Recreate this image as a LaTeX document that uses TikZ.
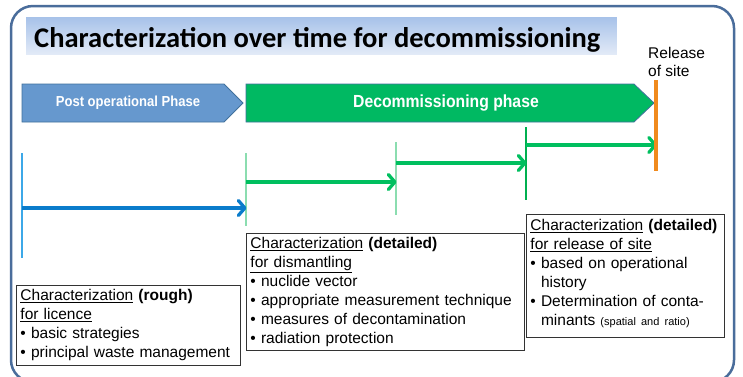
\documentclass[tikz,border=0pt]{standalone}
\usepackage{graphicx}
\usepackage{fontspec}
\setmainfont{Liberation Sans}
\newfontfamily\titlefont{Carlito}
\usetikzlibrary{arrows.meta}
\definecolor{frameblue}{HTML}{4A6D9B}
\definecolor{bannertop}{HTML}{A7C2E9}
\definecolor{bannerbot}{HTML}{E2EAF7}
\definecolor{postfill}{HTML}{6698CE}
\definecolor{phaseedge}{HTML}{41719C}
\definecolor{decfill}{HTML}{00B962}
\definecolor{siteorange}{HTML}{F08A1D}
\definecolor{arrowblue}{HTML}{0A7CCB}
\definecolor{arrowgreen}{HTML}{00BF5F}
\definecolor{tickblue}{HTML}{3CA8E8}
\definecolor{tickgreen}{HTML}{8BDDB0}
\definecolor{tickgreendark}{HTML}{00B050}
\tikzset{
  phase/.style={fill=#1, draw=phaseedge, line width=0.8pt},
  phasetext/.style={text=white, inner sep=0pt},
  tickline/.style={draw=#1, line width=1.5pt},
  timearrow/.style={draw=#1, line width=3.3pt, -{Straight Barb[length=6.5pt,width=15pt,round]}},
  infobox/.style={draw=black!80, line width=0.9pt, anchor=north west, inner xsep=4pt, inner ysep=3pt,
    align=left, font=\fontsize{15.5}{19}\selectfont, text height=12pt},
}
\begin{document}
\begin{tikzpicture}[x=1pt,y=-1pt]
\useasboundingbox (0,0) rectangle (743,376);
\fill[white] (0,0) rectangle (743,376);
% outer frame
\draw[frameblue, line width=2.5pt, rounded corners=22pt] (11,6) rectangle (734,382);
% title banner: top darker blue, bottom lighter
\foreach \i in {0,...,37}{
  \pgfmathsetmacro{\mixval}{100-\i*100/37}
  \fill[bannertop!\mixval!bannerbot] (26,17+\i) rectangle (617,18.2+\i);
}
\node[font=\titlefont\bfseries\fontsize{28.5}{30}\selectfont, anchor=base west, inner sep=0pt] (title) at (34,47.5) {Characterization over time for decommissioning};
% release label
\node[anchor=north west, inner sep=0pt, align=left, font=\fontsize{15.5}{18}\selectfont] (release) at (648,47.5) {Release\\of site};
% phase arrows
\draw[phase=postfill] (22,84) -- (224,84) -- (243,103) -- (224,122) -- (22,122) -- cycle;
\draw[phase=decfill] (246,84) -- (634,84) -- (654,103) -- (634,122) -- (246,122) -- cycle;
\node[phasetext, font=\bfseries\fontsize{14.5}{16}\selectfont] (posttxt) at (128,103) {\scalebox{0.9}[1]{Post operational Phase}};
\node[phasetext, font=\bfseries\fontsize{17.5}{19}\selectfont] (dectxt) at (446,103) {\scalebox{0.9}[1]{Decommissioning phase}};
% tick coordinates
\coordinate (t0a) at (22,153);  \coordinate (t0b) at (22,258);
\coordinate (t1a) at (246,153); \coordinate (t1b) at (246,226);
\coordinate (t2a) at (396,142); \coordinate (t2b) at (396,215);
\coordinate (t3a) at (526,127); \coordinate (t3b) at (526,200);
\coordinate (t4a) at (656,80);  \coordinate (t4b) at (656,171);
\draw[tickline=tickblue] (t0a) -- (t0b);
\draw[tickline=tickgreen] (t1a) -- (t1b);
\draw[tickline=tickgreen] (t2a) -- (t2b);
\draw[tickline=tickgreendark, line width=1.2pt] (t3a) -- (t3b);
% time arrows
\coordinate (a0) at (22,208);  \coordinate (a1) at (246.5,208);
\coordinate (g0) at (246,182); \coordinate (g1) at (396.5,182);
\coordinate (h0) at (396,163); \coordinate (h1) at (526.5,163);
\coordinate (k0) at (526,145); \coordinate (k1) at (657,145);
\draw[timearrow=arrowblue] (a0) -- (a1);
\draw[timearrow=arrowgreen] (g0) -- (g1);
\draw[timearrow=arrowgreen] (h0) -- (h1);
\draw[timearrow=arrowgreen] (k0) -- (k1);
\draw[siteorange, line width=3.3pt] (t4a) -- (t4b);
% info boxes
\node[infobox, text width=216pt, text depth=62pt] (box1) at (16,285)
 {\underline{Characterization} \textbf{(rough)}\\
  \underline{for licence}\\
  • basic strategies\\
  • principal waste management};
\node[infobox, text width=270pt, text depth=99pt] (box2) at (246,233)
 {\underline{Characterization} \textbf{(detailed)}\\
  \underline{for dismantling}\\
  • nuclide vector\\
  • appropriate measurement technique\\
  • measures of decontamination\\
  • radiation protection};
\node[infobox, text width=190pt, text height=13pt, text depth=104pt] (box3) at (526,214)
 {\underline{Characterization} \textbf{(detailed)}\\
  \underline{for release of site}\\
  • based on operational\\
  \phantom{• }history\\
  • Determination of conta-\\
  \mbox{\phantom{• }minants \fontsize{11}{12}\selectfont(spatial and ratio)}};
\end{tikzpicture}
\end{document}
